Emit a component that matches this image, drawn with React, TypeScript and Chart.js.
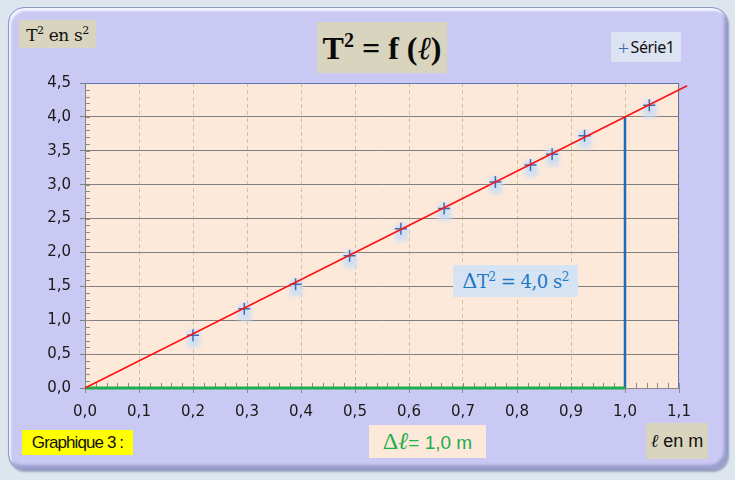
import React, { useEffect, useRef } from "react";
import { Chart, registerables } from "chart.js";

Chart.register(...registerables);

// ---- data ----
const lengths = [0.2, 0.295, 0.39, 0.49, 0.585, 0.665, 0.76, 0.825, 0.865, 0.925, 1.045];
const periodsSquared = [0.78, 1.17, 1.53, 1.95, 2.35, 2.65, 3.04, 3.29, 3.45, 3.72, 4.17];
const fitX = [0, 1.115];
const fitY = [0, 4.46];
const deltaLX = [0, 1.0];
const deltaLY = [0, 0];
const deltaTX = [1.0, 1.0];
const deltaTY = [0, 4.0];
const xMin = 0, xMax = 1.1, xStep = 0.1;
const yMin = 0, yMax = 4.5, yStep = 0.5;

const toPts = (xs: number[], ys: number[]) => xs.map((x, i) => ({ x, y: ys[i] }));
const fmt = (v: number) => v.toFixed(1).replace(".", ",");

const decorPlugin = {
  id: "decor",
  beforeDraw(chart: any) {
    const { ctx, chartArea: a } = chart;
    ctx.save();
    ctx.fillStyle = "#fde9da";
    ctx.fillRect(a.left, a.top, a.right - a.left, a.bottom - a.top);
    ctx.restore();
  },
  beforeDatasetsDraw(chart: any) {
    const { ctx, chartArea: a, scales } = chart;
    const xs = scales.x, ys = scales.y;
    ctx.save();
    ctx.strokeStyle = "#8a8a8a";
    ctx.lineWidth = 1;
    ctx.beginPath();
    for (let i = 0; i <= Math.round((xMax - xMin) / 0.02); i++) {
      const px = Math.round(xs.getPixelForValue(xMin + i * 0.02)) + 0.5;
      ctx.moveTo(px, a.bottom);
      ctx.lineTo(px, a.bottom - 5);
    }
    for (let i = 0; i <= Math.round((yMax - yMin) / 0.1); i++) {
      const py = Math.round(ys.getPixelForValue(yMin + i * 0.1)) + 0.5;
      ctx.moveTo(a.left, py);
      ctx.lineTo(a.left + 5, py);
    }
    ctx.stroke();
    // top / right border
    ctx.strokeStyle = "#5a78b4";
    ctx.beginPath();
    ctx.moveTo(a.left, a.top + 0.5);
    ctx.lineTo(a.right - 0.5, a.top + 0.5);
    ctx.lineTo(a.right - 0.5, a.bottom);
    ctx.stroke();
    ctx.restore();
  },
  beforeDatasetDraw(chart: any, args: any) {
    if (args.index !== 3) return;
    const { ctx } = chart;
    const meta = chart.getDatasetMeta(3);
    ctx.save();
    ctx.filter = "blur(2px)";
    ctx.fillStyle = "rgba(205,222,243,0.95)";
    meta.data.forEach((p: any) => {
      ctx.fillRect(p.x - 6, p.y - 5, 13, 17);
    });
    ctx.restore();
  },
};

function ChartCanvas() {
  const ref = useRef<HTMLCanvasElement>(null);
  useEffect(() => {
    if (!ref.current) return;
    const tickFont = { family: "'DejaVu Sans', sans-serif", size: 15 };
    const chart = new Chart(ref.current, {
      type: "scatter",
      data: {
        datasets: [
          {
            label: "fit",
            data: toPts(fitX, fitY),
            showLine: true,
            borderColor: "#ff1010",
            borderWidth: 1.5,
            pointRadius: 0,
            clip: false as any,
          },
          {
            label: "dl",
            data: toPts(deltaLX, deltaLY),
            showLine: true,
            borderColor: "#1fae4c",
            borderWidth: 3,
            pointRadius: 0,
            clip: false as any,
          },
          {
            label: "dT",
            data: toPts(deltaTX, deltaTY),
            showLine: true,
            borderColor: "#1d6db3",
            borderWidth: 2.5,
            pointRadius: 0,
            clip: false as any,
          },
          {
            label: "Série1",
            data: toPts(lengths, periodsSquared),
            pointStyle: "cross",
            pointRadius: 6,
            pointBorderWidth: 1.5,
            borderColor: "#3c6db0",
            backgroundColor: "#3c6db0",
            clip: false as any,
          },
        ],
      },
      options: {
        animation: false,
        responsive: false,
        maintainAspectRatio: false,
        layout: { padding: { left: 0, top: 83, right: 56, bottom: 0 } },
        plugins: { legend: { display: false }, tooltip: { enabled: false }, title: { display: false } },
        scales: {
          x: {
            type: "linear",
            min: xMin,
            max: xMax,
            afterFit: (s: any) => { s.height = 92; },
            afterBuildTicks: (s: any) => {
              const t = [];
              for (let i = 0; i <= Math.round((xMax - xMin) / xStep); i++) t.push({ value: +(xMin + i * xStep).toFixed(2) });
              s.ticks = t;
            },
            ticks: { callback: (v: any) => fmt(Number(v)), color: "#1a1a1a", font: tickFont, padding: 10, maxRotation: 0 },
            grid: { color: "#cfc3a0", tickColor: "#8a8a8a", tickLength: 5, lineWidth: 1 },
            border: { color: "#8a8a8a", dash: [4, 3] },
          },
          y: {
            type: "linear",
            min: yMin,
            max: yMax,
            afterFit: (s: any) => { s.width = 85; },
            afterBuildTicks: (s: any) => {
              const t = [];
              for (let i = 0; i <= Math.round((yMax - yMin) / yStep); i++) t.push({ value: +(yMin + i * yStep).toFixed(2) });
              s.ticks = t;
            },
            ticks: { callback: (v: any) => fmt(Number(v)), color: "#1a1a1a", font: tickFont, padding: 9 },
            grid: { color: "#808080", tickColor: "#808080", tickLength: 5, lineWidth: 1 },
            border: { color: "#808080" },
          },
        },
      },
      plugins: [decorPlugin],
    });
    return () => chart.destroy();
  }, []);
  return <canvas ref={ref} width={735} height={480} style={{ position: "absolute", left: 0, top: 0, width: 735, height: 480 }} />;
}

const box = (s: React.CSSProperties): React.CSSProperties => ({
  position: "absolute",
  display: "flex",
  alignItems: "center",
  justifyContent: "center",
  whiteSpace: "nowrap",
  boxSizing: "border-box",
  ...s,
});

export default function App() {
  return (
    <div style={{ position: "fixed", left: 0, top: 0, width: 735, height: 480, background: "#dde5ef", overflow: "hidden" }}>
      <div
        style={{
          position: "absolute",
          left: 8,
          top: 7,
          width: 720,
          height: 463,
          borderRadius: 16,
          background: "#c9c9f3",
          border: "1px solid #8d9cc4",
          boxShadow: "inset 2px 3px 2px #f2f2ff, inset -3px -4px 3px #9a9ccc, 1px 2px 2px #9aa3bd",
          boxSizing: "border-box",
        }}
      />
      <ChartCanvas />
      <div style={box({ left: 19, top: 20, width: 77, height: 28, background: "#d9d4bd", fontFamily: "'DejaVu Serif', serif", fontSize: 17, letterSpacing: -0.4, color: "#111" })}>
        <span>T<sup style={{ fontSize: 11 }}>2</sup> en s<sup style={{ fontSize: 11 }}>2</sup></span>
      </div>
      <div style={box({ left: 317, top: 22, width: 130, height: 51, background: "#d9d4bd", fontFamily: "'Liberation Serif', serif", fontWeight: "bold", fontSize: 32, color: "#0a0a0a" })}>
        <span>T<sup style={{ fontSize: 20 }}>2</sup> = f (<i style={{ fontWeight: "normal" }}>ℓ</i>)</span>
      </div>
      <div style={box({ left: 611, top: 32, width: 70, height: 30, background: "#dce4f3", fontFamily: "'Noto Sans', sans-serif", fontSize: 16, letterSpacing: -0.5, color: "#111" })}>
        <span style={{ color: "#3c6db0", fontSize: 20, marginRight: 2, fontWeight: 300 }}>+</span>Série1
      </div>
      <div style={box({ left: 453, top: 265, width: 125, height: 32, background: "#d5e3f3", fontFamily: "'DejaVu Serif', serif", fontSize: 18, letterSpacing: -0.5, color: "#1f78c4" })}>
        <span><span style={{ fontSize: 21 }}>Δ</span>T<sup style={{ fontSize: 12 }}>2</sup> = 4,0 s<sup style={{ fontSize: 12 }}>2</sup></span>
      </div>
      <div style={box({ left: 369, top: 425, width: 117, height: 33, background: "#fde9da", fontFamily: "'Liberation Sans', sans-serif", fontSize: 19, color: "#1fae4c" })}>
        <span><span style={{ fontFamily: "'Liberation Serif', serif", fontSize: 24 }}>Δ<i>ℓ</i></span>= 1,0 m</span>
      </div>
      <div style={box({ left: 646, top: 423, width: 62, height: 36, background: "#d9d4bd", fontFamily: "'Liberation Sans', sans-serif", fontSize: 18, color: "#111" })}>
        <span><i style={{ fontFamily: "'Liberation Serif', serif" }}>ℓ</i> en m</span>
      </div>
      <div style={box({ left: 22, top: 430, width: 111, height: 25, background: "#ffff00", fontFamily: "'Liberation Sans', sans-serif", fontSize: 17, letterSpacing: -0.9, color: "#111" })}>
        <span>Graphique 3 :</span>
      </div>
    </div>
  );
}
